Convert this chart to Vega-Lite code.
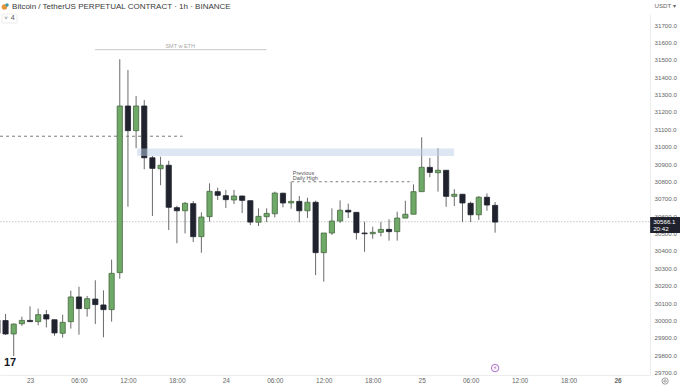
{
"$schema":"https://vega.github.io/schema/vega-lite/v6.json",
"width":650,"height":361,
"autosize":{"type":"none"},
"padding":{"left":0,"top":14,"right":30,"bottom":11},
"background":"#ffffff",
"config":{"view":{"stroke":null},"axis":{"labelOverlap":false,"labelBound":false}},
"datasets":{
"candles":[
{"t":"2023-06-22T20:00:00Z","open":30002,"close":29926,"high":30031,"low":29874,"dir":"down"},
{"t":"2023-06-22T21:00:00Z","open":29999,"close":29922,"high":30037,"low":29916,"dir":"down"},
{"t":"2023-06-22T22:00:00Z","open":29922,"close":29979,"high":29983,"low":29795,"dir":"up"},
{"t":"2023-06-22T23:00:00Z","open":29981,"close":30000,"high":30022,"low":29968,"dir":"up"},
{"t":"2023-06-23T00:00:00Z","open":30000,"close":29993,"high":30081,"low":29991,"dir":"down"},
{"t":"2023-06-23T01:00:00Z","open":29993,"close":30033,"high":30068,"low":29972,"dir":"up"},
{"t":"2023-06-23T02:00:00Z","open":30033,"close":30008,"high":30060,"low":29960,"dir":"down"},
{"t":"2023-06-23T03:00:00Z","open":30004,"close":29928,"high":30004,"low":29912,"dir":"down"},
{"t":"2023-06-23T04:00:00Z","open":29926,"close":29989,"high":30033,"low":29901,"dir":"up"},
{"t":"2023-06-23T05:00:00Z","open":29993,"close":30135,"high":30171,"low":29953,"dir":"up"},
{"t":"2023-06-23T06:00:00Z","open":30135,"close":30068,"high":30194,"low":29918,"dir":"down"},
{"t":"2023-06-23T07:00:00Z","open":30068,"close":30125,"high":30141,"low":30022,"dir":"up"},
{"t":"2023-06-23T08:00:00Z","open":30123,"close":30091,"high":30231,"low":29979,"dir":"down"},
{"t":"2023-06-23T09:00:00Z","open":30089,"close":30062,"high":30173,"low":29903,"dir":"down"},
{"t":"2023-06-23T10:00:00Z","open":30062,"close":30271,"high":30350,"low":29993,"dir":"up"},
{"t":"2023-06-23T11:00:00Z","open":30275,"close":31234,"high":31503,"low":30240,"dir":"up"},
{"t":"2023-06-23T12:00:00Z","open":31234,"close":31092,"high":31441,"low":30654,"dir":"down"},
{"t":"2023-06-23T13:00:00Z","open":31092,"close":31234,"high":31292,"low":30991,"dir":"up"},
{"t":"2023-06-23T14:00:00Z","open":31234,"close":30936,"high":31268,"low":30870,"dir":"down"},
{"t":"2023-06-23T15:00:00Z","open":30936,"close":30875,"high":30946,"low":30601,"dir":"down"},
{"t":"2023-06-23T16:00:00Z","open":30873,"close":30893,"high":30942,"low":30778,"dir":"up"},
{"t":"2023-06-23T17:00:00Z","open":30893,"close":30651,"high":30919,"low":30520,"dir":"down"},
{"t":"2023-06-23T18:00:00Z","open":30649,"close":30631,"high":30660,"low":30444,"dir":"down"},
{"t":"2023-06-23T19:00:00Z","open":30631,"close":30674,"high":30681,"low":30501,"dir":"up"},
{"t":"2023-06-23T20:00:00Z","open":30672,"close":30482,"high":30687,"low":30451,"dir":"down"},
{"t":"2023-06-23T21:00:00Z","open":30482,"close":30595,"high":30622,"low":30390,"dir":"up"},
{"t":"2023-06-23T22:00:00Z","open":30597,"close":30743,"high":30789,"low":30568,"dir":"up"},
{"t":"2023-06-23T23:00:00Z","open":30741,"close":30720,"high":30764,"low":30693,"dir":"down"},
{"t":"2023-06-24T00:00:00Z","open":30718,"close":30695,"high":30751,"low":30647,"dir":"down"},
{"t":"2023-06-24T01:00:00Z","open":30693,"close":30716,"high":30751,"low":30670,"dir":"up"},
{"t":"2023-06-24T02:00:00Z","open":30716,"close":30691,"high":30718,"low":30618,"dir":"down"},
{"t":"2023-06-24T03:00:00Z","open":30689,"close":30566,"high":30689,"low":30549,"dir":"down"},
{"t":"2023-06-24T04:00:00Z","open":30565,"close":30599,"high":30645,"low":30543,"dir":"up"},
{"t":"2023-06-24T05:00:00Z","open":30597,"close":30616,"high":30645,"low":30566,"dir":"up"},
{"t":"2023-06-24T06:00:00Z","open":30614,"close":30733,"high":30741,"low":30593,"dir":"up"},
{"t":"2023-06-24T07:00:00Z","open":30732,"close":30676,"high":30735,"low":30651,"dir":"down"},
{"t":"2023-06-24T08:00:00Z","open":30676,"close":30685,"high":30798,"low":30643,"dir":"up"},
{"t":"2023-06-24T09:00:00Z","open":30685,"close":30631,"high":30716,"low":30565,"dir":"down"},
{"t":"2023-06-24T10:00:00Z","open":30631,"close":30680,"high":30706,"low":30589,"dir":"up"},
{"t":"2023-06-24T11:00:00Z","open":30680,"close":30390,"high":30689,"low":30261,"dir":"down"},
{"t":"2023-06-24T12:00:00Z","open":30390,"close":30503,"high":30503,"low":30223,"dir":"up"},
{"t":"2023-06-24T13:00:00Z","open":30503,"close":30572,"high":30645,"low":30492,"dir":"up"},
{"t":"2023-06-24T14:00:00Z","open":30572,"close":30634,"high":30691,"low":30561,"dir":"up"},
{"t":"2023-06-24T15:00:00Z","open":30634,"close":30624,"high":30672,"low":30589,"dir":"down"},
{"t":"2023-06-24T16:00:00Z","open":30622,"close":30505,"high":30622,"low":30465,"dir":"down"},
{"t":"2023-06-24T17:00:00Z","open":30503,"close":30499,"high":30568,"low":30395,"dir":"down"},
{"t":"2023-06-24T18:00:00Z","open":30499,"close":30507,"high":30539,"low":30470,"dir":"up"},
{"t":"2023-06-24T19:00:00Z","open":30507,"close":30524,"high":30566,"low":30484,"dir":"up"},
{"t":"2023-06-24T20:00:00Z","open":30524,"close":30511,"high":30582,"low":30459,"dir":"down"},
{"t":"2023-06-24T21:00:00Z","open":30511,"close":30589,"high":30626,"low":30459,"dir":"up"},
{"t":"2023-06-24T22:00:00Z","open":30589,"close":30611,"high":30689,"low":30589,"dir":"up"},
{"t":"2023-06-24T23:00:00Z","open":30611,"close":30741,"high":30783,"low":30611,"dir":"up"},
{"t":"2023-06-25T00:00:00Z","open":30741,"close":30881,"high":31054,"low":30741,"dir":"up"},
{"t":"2023-06-25T01:00:00Z","open":30881,"close":30852,"high":30935,"low":30824,"dir":"down"},
{"t":"2023-06-25T02:00:00Z","open":30850,"close":30864,"high":30991,"low":30741,"dir":"up"},
{"t":"2023-06-25T03:00:00Z","open":30864,"close":30714,"high":30864,"low":30654,"dir":"down"},
{"t":"2023-06-25T04:00:00Z","open":30714,"close":30726,"high":30755,"low":30658,"dir":"up"},
{"t":"2023-06-25T05:00:00Z","open":30726,"close":30676,"high":30726,"low":30566,"dir":"down"},
{"t":"2023-06-25T06:00:00Z","open":30674,"close":30608,"high":30683,"low":30566,"dir":"down"},
{"t":"2023-06-25T07:00:00Z","open":30608,"close":30709,"high":30716,"low":30578,"dir":"up"},
{"t":"2023-06-25T08:00:00Z","open":30709,"close":30664,"high":30731,"low":30631,"dir":"down"},
{"t":"2023-06-25T09:00:00Z","open":30662,"close":30566,"high":30681,"low":30505,"dir":"down"}
],
"notesLeft":[
{"t":"2023-06-22T21:48:00Z","price":31804,"label":"Bitcoin / TetherUS PERPETUAL CONTRACT · 1h · BINANCE","color":"#3a3a3a","size":8},
{"t":"2023-06-24T08:12:00Z","price":30847,"label":"Previous","color":"#555555","size":5.5},
{"t":"2023-06-24T08:12:00Z","price":30818,"label":"Daily High","color":"#555555","size":5.5},
{"t":"2023-06-26T04:22:00Z","price":30569,"label":"30566.1","color":"#ffffff","size":6.2},
{"t":"2023-06-26T04:22:00Z","price":30528,"label":"20:42","color":"#ffffff","size":6.2}
],
"notesCenter":[
{"t":"2023-06-23T18:24:00Z","price":31580,"label":"SMT w ETH","color":"#a8a8a8","size":5.5},
{"t":"2023-06-22T21:04:00Z","price":31738,"label":"˅","color":"#555555","size":6},
{"t":"2023-06-22T21:52:00Z","price":31738,"label":"4","color":"#555555","size":7}
]
},
"data":{"name":"candles"},
"layer":[
{"data":{"values":[{"a":"2023-06-22T20:00:00Z","b":"2023-06-26T04:00:00Z","price":30568}]},
 "mark":{"type":"rule","color":"#a9a9a9","strokeWidth":1,"strokeDash":[1,2]},
 "encoding":{"x":{"field":"a","type":"temporal","scale":{"type":"utc","domain":["2023-06-22T20:19:12Z","2023-06-26T03:59:00Z"],"nice":false,"padding":0},
  "axis":{"orient":"bottom","title":null,"grid":false,"ticks":false,"domainColor":"#ededed","labelColor":"#666666","labelFont":"Liberation Sans","labelFontSize":6.5,"labelPadding":2,"labelFlush":false,"labelOverlap":false,"tickCount":30,
   "values":["2023-06-23T00:00:00Z","2023-06-23T06:00:00Z","2023-06-23T12:00:00Z","2023-06-23T18:00:00Z","2023-06-24T00:00:00Z","2023-06-24T06:00:00Z","2023-06-24T12:00:00Z","2023-06-24T18:00:00Z","2023-06-25T00:00:00Z","2023-06-25T06:00:00Z","2023-06-25T12:00:00Z","2023-06-25T18:00:00Z","2023-06-26T00:00:00Z"],
   "labelExpr":"utchours(datum.value)==0 ? utcFormat(datum.value,'%d') : utcFormat(datum.value,'%H:%M')",
   "labelFontWeight":{"condition":{"test":"utcdate(datum.value)==26","value":"bold"},"value":"normal"}}},
  "x2":{"field":"b"},
  "y":{"field":"price","type":"quantitative","scale":{"domain":[29685.9,31763.4],"nice":false,"zero":false,"padding":0},
   "axis":{"orient":"right","title":"USDT ▾","titleAngle":0,"titleX":4,"titleY":-9,"titleAlign":"left","titleBaseline":"middle","titleFont":"Liberation Sans","titleFontSize":6.2,"titleFontWeight":"normal","titleColor":"#666666","grid":false,"ticks":false,"domainColor":"#ededed","labelColor":"#666666","labelFont":"Liberation Sans","labelFontSize":6.2,"labelPadding":4,"labelOverlap":false,"labelFlush":false,"format":".1f","tickCount":30,
    "values":[29700,29800,29900,30000,30100,30200,30300,30400,30500,30600,30700,30800,30900,31000,31100,31200,31300,31400,31500,31600,31700]}}}},
{"data":{"values":[{"a":"2023-06-22T20:19:12Z","b":"2023-06-23T18:42:00Z","price":31060}]},
 "mark":{"type":"rule","color":"#444444","strokeWidth":0.7,"strokeDash":[3,3]},
 "encoding":{"x":{"field":"a","type":"temporal"},"x2":{"field":"b"},"y":{"field":"price","type":"quantitative"}}},
{"data":{"values":[{"a":"2023-06-24T08:04:00Z","b":"2023-06-24T22:56:00Z","price":30798}]},
 "mark":{"type":"rule","color":"#555555","strokeWidth":0.8,"strokeDash":[2.5,3]},
 "encoding":{"x":{"field":"a","type":"temporal"},"x2":{"field":"b"},"y":{"field":"price","type":"quantitative"}}},
{"data":{"values":[{"a":"2023-06-23T07:58:00Z","b":"2023-06-24T05:00:00Z","price":31558}]},
 "mark":{"type":"rule","color":"#c9c9c9","strokeWidth":1},
 "encoding":{"x":{"field":"a","type":"temporal"},"x2":{"field":"b"},"y":{"field":"price","type":"quantitative"}}},
{"mark":{"type":"rule","color":"#6b6b6b","strokeWidth":1},
 "encoding":{"x":{"field":"t","type":"temporal"},"y":{"field":"low","type":"quantitative"},"y2":{"field":"high"}}},
{"mark":{"type":"bar","size":5.2,"strokeWidth":0.8},
 "encoding":{"x":{"field":"t","type":"temporal"},"y":{"field":"open","type":"quantitative"},"y2":{"field":"close"},
  "color":{"field":"dir","type":"nominal","legend":null,"scale":{"domain":["up","down"],"range":["#6fa968","#20232e"]}},
  "stroke":{"field":"dir","type":"nominal","legend":null,"scale":{"domain":["up","down"],"range":["#46683f","#20232e"]}}}},
{"data":{"values":[{"a":"2023-06-23T13:09:00Z","b":"2023-06-25T03:58:00Z","top":30990,"bottom":30946}]},
 "mark":{"type":"rect","color":"#bcd0e8","opacity":0.5},
 "encoding":{"x":{"field":"a","type":"temporal"},"x2":{"field":"b"},"y":{"field":"top","type":"quantitative"},"y2":{"field":"bottom"}}},
{"data":{"values":[{"a":"2023-06-26T04:00:00Z","b":"2023-06-26T07:45:00Z","top":30595,"bottom":30503}]},
 "mark":{"type":"rect","color":"#1f222d"},
 "encoding":{"x":{"field":"a","type":"temporal"},"x2":{"field":"b"},"y":{"field":"top","type":"quantitative"},"y2":{"field":"bottom"}}},
{"data":{"values":[{"a":"2023-06-22T20:34:00Z","b":"2023-06-22T22:25:00Z","top":31763,"bottom":31712}]},
 "mark":{"type":"rect","fill":"#ffffff","stroke":"#e6e6e6","strokeWidth":0.8,"cornerRadius":1},
 "encoding":{"x":{"field":"a","type":"temporal"},"x2":{"field":"b"},"y":{"field":"top","type":"quantitative"},"y2":{"field":"bottom"}}},
{"data":{"values":[{"t":"2023-06-22T20:52:00Z","price":31804,"c":"orange"},{"t":"2023-06-22T21:11:00Z","price":31815,"c":"teal"}]},
 "mark":{"type":"point","filled":true,"opacity":1},
 "encoding":{"x":{"field":"t","type":"temporal"},"y":{"field":"price","type":"quantitative"},
  "fill":{"field":"c","type":"nominal","legend":null,"scale":{"domain":["orange","teal"],"range":["#e8963c","#3f9aa8"]}},
  "size":{"field":"c","type":"nominal","legend":null,"scale":{"domain":["orange","teal"],"range":[30,12]}}}},
{"data":{"values":[{"t":"2023-06-25T09:00:00Z","price":29726}]},
 "mark":{"type":"point","filled":false,"color":"#a35cc7","size":55,"strokeWidth":0.9,"opacity":1},
 "encoding":{"x":{"field":"t","type":"temporal"},"y":{"field":"price","type":"quantitative"}}},
{"data":{"values":[{"t":"2023-06-25T09:00:00Z","price":29726,"label":"⚡"}]},
 "mark":{"type":"text","color":"#a35cc7","fontSize":6,"baseline":"middle","align":"center","font":"DejaVu Sans"},
 "encoding":{"x":{"field":"t","type":"temporal"},"y":{"field":"price","type":"quantitative"},"text":{"field":"label"}}},
{"data":{"values":[{"t":"2023-06-26T05:50:00Z","price":29651,"s":"outer"},{"t":"2023-06-26T05:50:00Z","price":29651,"s":"inner"}]},
 "mark":{"type":"point","filled":false,"color":"#777777","strokeWidth":0.7,"opacity":1},
 "encoding":{"x":{"field":"t","type":"temporal"},"y":{"field":"price","type":"quantitative"},
  "shape":{"value":"circle"},
  "size":{"field":"s","type":"nominal","legend":null,"scale":{"domain":["outer","inner"],"range":[40,6]}}}},
{"data":{"values":[{"t":"2023-06-22T21:33:00Z","price":29755,"label":"17"}]},
 "mark":{"type":"text","color":"#15171f","fontSize":11,"fontWeight":"bold","baseline":"middle","align":"center","font":"Liberation Sans"},
 "encoding":{"x":{"field":"t","type":"temporal"},"y":{"field":"price","type":"quantitative"},"text":{"field":"label"}}},
{"data":{"name":"notesLeft"},
 "mark":{"type":"text","baseline":"middle","align":"left","font":"Liberation Sans"},
 "encoding":{"x":{"field":"t","type":"temporal"},"y":{"field":"price","type":"quantitative"},"text":{"field":"label"},
  "color":{"field":"color","type":"nominal","scale":null},
  "size":{"field":"size","type":"quantitative","scale":null}}},
{"data":{"name":"notesCenter"},
 "mark":{"type":"text","baseline":"middle","align":"center","font":"Liberation Sans"},
 "encoding":{"x":{"field":"t","type":"temporal"},"y":{"field":"price","type":"quantitative"},"text":{"field":"label"},
  "color":{"field":"color","type":"nominal","scale":null},
  "size":{"field":"size","type":"quantitative","scale":null}}}
],
"resolve":{"scale":{"color":"independent","size":"independent","fill":"independent"}}
}
